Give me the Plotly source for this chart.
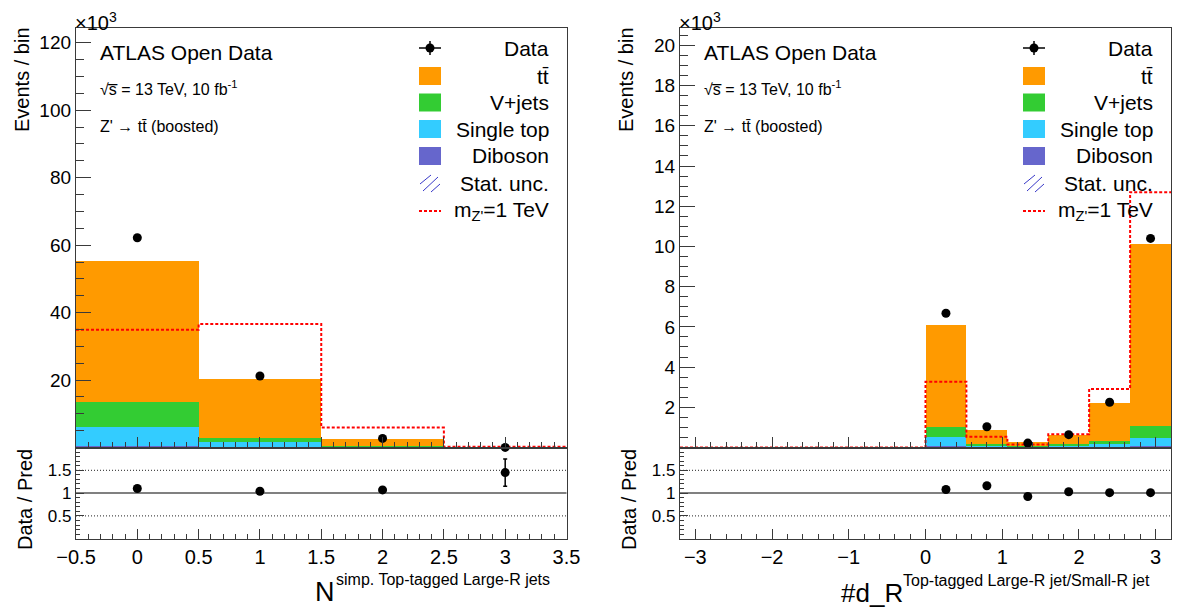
import numpy as np
import plotly.graph_objects as go

W, H = 1179, 610
FONT = "Liberation Sans, Arial, Helvetica, sans-serif"

# ---------------- data (values in units of 10^3 events) ----------------
# Left: number of simple top-tagged large-R jets
left_edges = [-0.5, 0.5, 1.5, 2.5, 3.5]
left_diboson = [0.3, 0.05, 0.01, 0.0]
left_single_top = [5.6, 1.35, 0.12, 0.003]
left_vjets = [7.4, 1.3, 0.25, 0.005]
left_ttbar = [41.8, 17.5, 2.1, 0.012]
left_data = [62.2, 21.2, 2.7, 0.03]
left_signal = [34.9, 36.6, 5.9, 0.2]
left_ratio = [1.10, 1.04, 1.07, 1.45]
left_ratio_err = [0.01, 0.01, 0.02, 0.30]

# Right: dR between top-tagged large-R jet and small-R jet
right_edges = [-3.2, -2.667, -2.133, -1.6, -1.067, -0.533, 0.0,
               0.533, 1.067, 1.6, 2.133, 2.667, 3.2]
right_diboson = [0, 0, 0, 0, 0, 0, 0.05, 0.01, 0.003, 0.01, 0.02, 0.05]
right_single_top = [0, 0, 0, 0, 0, 0, 0.44, 0.07, 0.027, 0.06, 0.13, 0.41]
right_vjets = [0, 0, 0, 0, 0, 0, 0.51, 0.08, 0.03, 0.08, 0.15, 0.61]
right_ttbar = [0, 0, 0, 0, 0, 0, 5.06, 0.71, 0.18, 0.47, 1.9, 9.03]
right_data = [None, None, None, None, None, None, 6.68, 1.03, 0.22, 0.64, 2.25, 10.4]
right_signal = [0, 0, 0, 0, 0, 0, 3.27, 0.54, 0.15, 0.66, 2.91, 12.7]
right_ratio = [None, None, None, None, None, None, 1.08, 1.16, 0.925, 1.03, 1.01, 1.01]
right_ratio_err = [0, 0, 0, 0, 0, 0, 0.01, 0.02, 0.05, 0.03, 0.02, 0.01]

legend_labels = ["Data", "tt\u0304", "V+jets", "Single top", "Diboson",
                 "Stat. unc.", "m<sub>Z'</sub>=1 TeV"]

C_TT = "#ff9a00"
C_VJ = "#33cc33"
C_ST = "#33ccff"
C_DB = "#6666cc"
C_SIG = "#ff0000"
C_FRAME = "#3a3a3a"

# ---------------- geometry (pixels) ----------------
def px(x):
    return x / W

def py(y):
    return 1 - y / H

L_X = [px(76), px(566.5)]
R_X = [px(680), px(1171)]
MAIN_Y = [py(447.5), py(28.3)]
RAT_Y = [py(538.7), py(447.5)]

fig = go.Figure()


def centers_widths(edges):
    e = np.array(edges, dtype=float)
    return list((e[:-1] + e[1:]) / 2), list(e[1:] - e[:-1])


def add_panel(edges, stacks, data, signal, ratio, ratio_err, xa, ya, xr, yr):
    c, w = centers_widths(edges)
    for vals, col in stacks:
        fig.add_trace(go.Bar(x=c, y=vals, width=w, marker=dict(color=col, line=dict(width=0)),
                             xaxis=xa, yaxis=ya, showlegend=False, hoverinfo="skip"))
    fig.add_trace(go.Scatter(x=list(edges), y=list(signal) + [signal[-1]], mode="lines",
                             line=dict(color=C_SIG, width=2, dash="3px,2px", shape="hv"),
                             xaxis=xa, yaxis=ya, showlegend=False))
    fig.add_trace(go.Scatter(x=c, y=data, mode="markers",
                             marker=dict(color="black", size=9), cliponaxis=False,
                             xaxis=xa, yaxis=ya, showlegend=False))
    fig.add_trace(go.Scatter(x=c, y=ratio, mode="markers",
                             marker=dict(color="black", size=9),
                             error_y=dict(type="data", array=ratio_err, color="black",
                                          thickness=1.5, width=2),
                             cliponaxis=False,
                             xaxis=xr, yaxis=yr, showlegend=False))


add_panel(left_edges,
          [(left_diboson, C_DB), (left_single_top, C_ST), (left_vjets, C_VJ), (left_ttbar, C_TT)],
          left_data, left_signal, left_ratio, left_ratio_err, "x", "y", "x2", "y2")
add_panel(right_edges,
          [(right_diboson, C_DB), (right_single_top, C_ST), (right_vjets, C_VJ), (right_ttbar, C_TT)],
          right_data, right_signal, right_ratio, right_ratio_err, "x3", "y3", "x4", "y4")

axis_common = dict(showline=True, mirror=True, linecolor=C_FRAME, linewidth=1.3,
                   showgrid=False, zeroline=False, ticks="inside", tickcolor=C_FRAME,
                   automargin=False,
                   tickfont=dict(family=FONT, size=20, color="black"))

left_xticks = [-0.5, 0, 0.5, 1, 1.5, 2, 2.5, 3, 3.5]
left_xtext = ["\u22120.5", "0", "0.5", "1", "1.5", "2", "2.5", "3", "3.5"]
right_xticks = [-3, -2, -1, 0, 1, 2, 3]
right_xtext = ["\u22123", "\u22122", "\u22121", "0", "1", "2", "3"]

left_xminor = [v for v in np.round(np.arange(-0.5, 3.51, 0.1), 3) if v not in left_xticks]
right_xminor = [v for v in np.round(np.arange(-3.2, 3.21, 0.2), 3) if v not in right_xticks]
ratio_minor = [round(v, 2) for v in np.arange(0.1, 2.0, 0.1)
               if round(v, 2) not in (0.5, 1.0, 1.5)]

fig.update_layout(
    width=W, height=H, margin=dict(l=0, r=0, t=0, b=0, autoexpand=False),
    paper_bgcolor="white", plot_bgcolor="white",
    barmode="stack", bargap=0, showlegend=False,
    font=dict(family=FONT, color="black"),
    xaxis=dict(axis_common, domain=L_X, anchor="y", range=[-0.5, 3.5],
               tickvals=left_xticks, showticklabels=False, ticklen=10,
               minor=dict(tickmode="array", tickvals=left_xminor, ticks="inside", ticklen=5,
                          tickcolor=C_FRAME)),
    yaxis=dict(axis_common, domain=MAIN_Y, anchor="x", range=[0, 124.3],
               tickvals=[20, 40, 60, 80, 100, 120], ticklen=15,
               tickfont=dict(family=FONT, size=19, color="black"),
               minor=dict(tickmode="array",
                          tickvals=[v for v in range(5, 125, 5) if v % 20],
                          ticks="inside", ticklen=8, tickcolor=C_FRAME)),
    xaxis2=dict(axis_common, domain=L_X, anchor="y2", range=[-0.5, 3.5],
                tickvals=left_xticks, ticktext=left_xtext, ticklen=10,
                minor=dict(tickmode="array", tickvals=left_xminor, ticks="inside", ticklen=5,
                           tickcolor=C_FRAME)),
    yaxis2=dict(axis_common, domain=RAT_Y, anchor="x2", range=[0, 2],
                tickvals=[0.5, 1, 1.5], ticktext=["0.5", "1", "1.5"], ticklen=8,
                tickfont=dict(family=FONT, size=17, color="black"),
                minor=dict(tickmode="array", tickvals=ratio_minor,
                           ticks="inside", ticklen=4, tickcolor=C_FRAME)),
    xaxis3=dict(axis_common, domain=R_X, anchor="y3", range=[-3.2, 3.2],
                tickvals=right_xticks, showticklabels=False, ticklen=10,
                minor=dict(tickmode="array", tickvals=right_xminor, ticks="inside", ticklen=5,
                           tickcolor=C_FRAME)),
    yaxis3=dict(axis_common, domain=MAIN_Y, anchor="x3", range=[0, 20.85],
                tickvals=list(range(2, 21, 2)), ticklen=15,
                tickfont=dict(family=FONT, size=19, color="black"),
                minor=dict(tickmode="array",
                           tickvals=[v / 2 for v in range(1, 42) if v % 4],
                           ticks="inside", ticklen=8, tickcolor=C_FRAME)),
    xaxis4=dict(axis_common, domain=R_X, anchor="y4", range=[-3.2, 3.2],
                tickvals=right_xticks, ticktext=right_xtext, ticklen=10,
                minor=dict(tickmode="array", tickvals=right_xminor, ticks="inside", ticklen=5,
                           tickcolor=C_FRAME)),
    yaxis4=dict(axis_common, domain=RAT_Y, anchor="x4", range=[0, 2],
                tickvals=[0.5, 1, 1.5], ticktext=["0.5", "1", "1.5"], ticklen=8,
                tickfont=dict(family=FONT, size=17, color="black"),
                minor=dict(tickmode="array", tickvals=ratio_minor,
                           ticks="inside", ticklen=4, tickcolor=C_FRAME)),
)

shapes = []
annotations = []

# ratio reference lines
for xr, yr in (("x2", "y2"), ("x4", "y4")):
    shapes.append(dict(type="line", xref=f"{xr} domain", yref=yr, x0=0, x1=1, y0=1, y1=1,
                       line=dict(color="#808080", width=2), layer="below"))
    for v in (0.5, 1.5):
        shapes.append(dict(type="line", xref=f"{xr} domain", yref=yr, x0=0, x1=1, y0=v, y1=v,
                           line=dict(color="#222222", width=1, dash="1px,2px"), layer="below"))


def ann(xpix, ypix, text, size, xanchor="left", yanchor="middle", angle=0):
    annotations.append(dict(x=px(xpix), y=py(ypix), xref="paper", yref="paper", text=text,
                            showarrow=False, xanchor=xanchor, yanchor=yanchor,
                            textangle=angle, borderpad=0,
                            font=dict(family=FONT, size=size, color="black")))


def line(x0, y0, x1, y1, color, width, dash=None):
    d = dict(color=color, width=width)
    if dash:
        d["dash"] = dash
    shapes.append(dict(type="line", xref="paper", yref="paper",
                       x0=px(x0), y0=py(y0), x1=px(x1), y1=py(y1), line=d))


def panel_text(frame_x, leg_cx, leg_right):
    # multiplier
    ann(frame_x - 2, 21, "\u00d710<sup>3</sup>", 20, xanchor="left")
    # labels
    ann(frame_x + 23, 52.5, "ATLAS Open Data", 21)
    ann(frame_x + 23, 88, "\u221as\u0305 = 13 TeV, 10 fb<sup>-1</sup>", 16)
    ann(frame_x + 23, 127, "Z' \u2192 tt\u0304 (boosted)", 16)
    # axis titles
    ann(frame_x - 54, 80, "Events / bin", 20, xanchor="center", angle=-90)
    ann(frame_x - 51, 500, "Data / Pred", 20, xanchor="center", angle=-90)
    # legend
    rows = [48, 76, 102.5, 129, 156, 183, 211]
    for r, lab in zip(rows, legend_labels):
        ann(leg_right, r, lab, 21, xanchor="right")
    cx = leg_cx
    # data symbol
    line(cx - 11, rows[0], cx + 11, rows[0], "black", 1.5)
    line(cx, rows[0] - 7, cx, rows[0] + 7, "black", 1.5)
    shapes.append(dict(type="circle", xref="paper", yref="paper", fillcolor="black",
                       line=dict(width=0), x0=px(cx - 4.5), x1=px(cx + 4.5),
                       y0=py(rows[0] + 4.5), y1=py(rows[0] - 4.5)))
    for r, col in zip(rows[1:5], [C_TT, C_VJ, C_ST, C_DB]):
        shapes.append(dict(type="rect", xref="paper", yref="paper", fillcolor=col,
                           line=dict(width=0), x0=px(cx - 11), x1=px(cx + 11),
                           y0=py(r + 9), y1=py(r - 9)))
    r = rows[5]
    line(cx - 10, r + 1, cx + 1, r - 8, "#3838c8", 1)
    line(cx - 7, r + 8, cx + 8, r - 6, "#3838c8", 1)
    line(cx + 1, r + 9, cx + 10, r + 1, "#3838c8", 1)
    line(cx - 11, rows[6], cx + 11, rows[6], C_SIG, 2, "3px,2px")


panel_text(76, 430, 550)
panel_text(680, 1034, 1154)

# x-axis titles
ann(314, 592, "N", 27)
ann(335, 579, "simp. Top-tagged Large-R jets", 16)
ann(840, 593, "#d_R", 26)
ann(902, 580, "Top-tagged Large-R jet/Small-R jet", 16)

fig.update_layout(shapes=shapes, annotations=annotations)
fig.write_html("out.html")
